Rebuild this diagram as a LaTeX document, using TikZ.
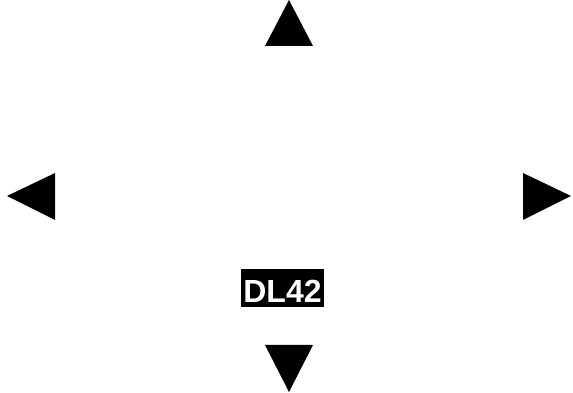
\documentclass[tikz,border=0pt]{standalone}
\usepackage{fontspec}
\setmainfont{Liberation Sans}
\begin{document}
\begin{tikzpicture}[x=1pt,y=1pt,
  arrowtri/.style={fill=black,draw=none},
  tag/.style={fill=black,text=white,font=\fontsize{32}{32}\selectfont\bfseries,inner sep=0pt,text height=28.5pt,text depth=0pt,minimum width=83pt,minimum height=38pt}]
\useasboundingbox (0,0) rectangle (573,393);
\fill[arrowtri] (265,347) -- (313,347) -- (289,393) -- cycle;
\fill[arrowtri] (7,197) -- (55,220) -- (55,173) -- cycle;
\fill[arrowtri] (523,220) -- (523,173) -- (571,197) -- cycle;
\fill[arrowtri] (265,48) -- (313,48) -- (289,1) -- cycle;
\node[tag] (label) at (282.5,105) {DL42};
\end{tikzpicture}
\end{document}
